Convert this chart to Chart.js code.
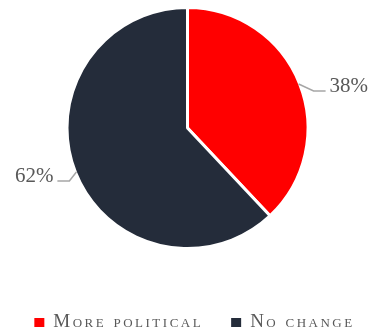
<!DOCTYPE html>
<html>
<head>
<meta charset="utf-8">
<script src="https://cdn.jsdelivr.net/npm/chart.js@4/dist/chart.umd.min.js"></script>
<style>
  html, body { margin: 0; padding: 0; background: #ffffff; }
  #wrap { width: 372px; height: 331px; position: relative; }
</style>
</head>
<body>
<div id="wrap"><canvas id="chart"></canvas></div>
<script>
// Survey split
const categories = ['More political', 'No change'];
const shares = [38, 62];
const sliceColors = ['#FF0000', '#242C3A'];
const valueLabels = ['38%', '62%'];

const SERIF = "'Liberation Serif', 'Times New Roman', serif";
const TEXT_GREY = '#595959';

// Outside value labels with bent grey leader lines
const leaderLabels = {
  id: 'leaderLabels',
  afterDatasetsDraw(chart) {
    const ctx = chart.ctx;
    const meta = chart.getDatasetMeta(0);
    ctx.save();
    ctx.letterSpacing = '0px';
    ctx.font = '21px ' + SERIF;
    ctx.fillStyle = TEXT_GREY;
    ctx.strokeStyle = '#A6A6A6';
    ctx.lineWidth = 1.5;
    ctx.textBaseline = 'alphabetic';
    meta.data.forEach((arc, i) => {
      const p = arc.getProps(['x', 'y', 'startAngle', 'endAngle', 'outerRadius'], true);
      const mid = (p.startAngle + p.endAngle) / 2;
      const r = p.outerRadius - 1;
      const side = Math.cos(mid) >= 0 ? 1 : -1;
      const x0 = p.x + Math.cos(mid) * r;
      const y0 = p.y + Math.sin(mid) * r;
      const x1 = x0 + (side > 0 ? 15 : -7);
      const y1 = y0 + (side > 0 ? 7 : 9);
      const x2 = x1 + side * 12;
      ctx.beginPath();
      ctx.moveTo(x0, y0);
      ctx.lineTo(x1, y1);
      ctx.lineTo(x2, y1);
      ctx.stroke();
      ctx.textAlign = side > 0 ? 'left' : 'right';
      ctx.fillText(valueLabels[i], x2 + side * 4, y1 + 1);
    });
    ctx.restore();
  }
};

// Single-row legend in tracked small caps under the pie
const smallCapsLegend = {
  id: 'smallCapsLegend',
  afterDraw(chart, args, opts) {
    const ctx = chart.ctx;
    const items = chart.data.labels.map((text, i) => ({
      text,
      color: chart.data.datasets[0].backgroundColor[i]
    }));
    ctx.save();
    ctx.font = 'small-caps 400 ' + opts.fontSize + 'px ' + SERIF;
    ctx.letterSpacing = opts.tracking + 'px';
    ctx.textAlign = 'left';
    ctx.textBaseline = 'alphabetic';
    const widths = items.map(it => opts.boxSize + opts.boxGap + ctx.measureText(it.text).width);
    const total = widths.reduce((a, b) => a + b, 0) + opts.itemGap * (items.length - 1);
    let x = opts.centerX - total / 2;
    items.forEach((it, i) => {
      ctx.fillStyle = it.color;
      ctx.fillRect(x, opts.baseline - opts.boxSize + 1, opts.boxSize, opts.boxSize - 1);
      ctx.fillStyle = TEXT_GREY;
      ctx.fillText(it.text, x + opts.boxSize + opts.boxGap, opts.baseline);
      x += widths[i] + opts.itemGap;
    });
    ctx.restore();
  }
};

new Chart(document.getElementById('chart'), {
  type: 'pie',
  data: {
    labels: categories,
    datasets: [{
      data: shares,
      backgroundColor: sliceColors,
      borderColor: '#ffffff',
      borderWidth: 3,
      hoverOffset: 0
    }]
  },
  options: {
    responsive: true,
    maintainAspectRatio: false,
    animation: false,
    layout: { padding: { top: 6, left: 3, right: 0, bottom: 81 } },
    plugins: {
      tooltip: { enabled: false },
      legend: { display: false },
      smallCapsLegend: {
        fontSize: 19,
        tracking: 2.5,
        boxSize: 10,
        boxGap: 9,
        itemGap: 28,
        centerX: 194.5,
        baseline: 327
      }
    }
  },
  plugins: [leaderLabels, smallCapsLegend]
});
</script>
</body>
</html>
